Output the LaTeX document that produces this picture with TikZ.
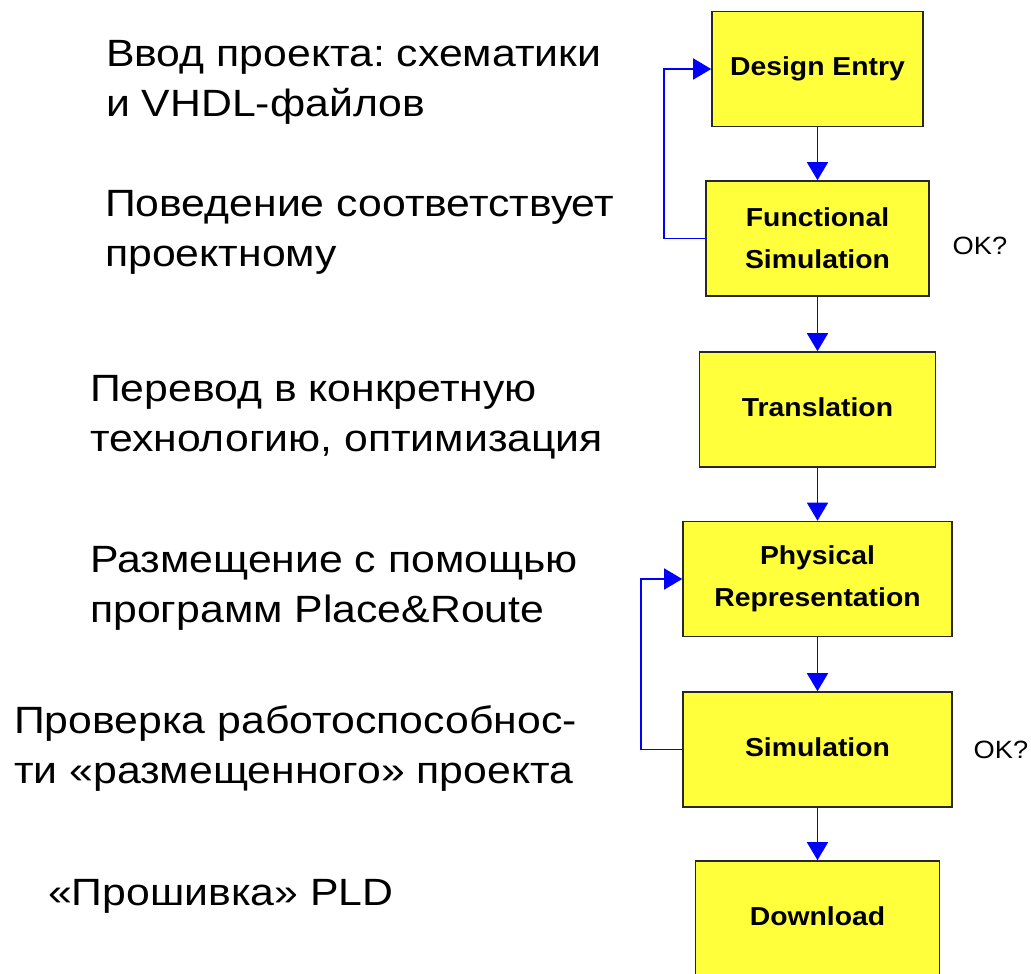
\documentclass[tikz,border=0pt]{standalone}
\usepackage{fontspec}
\setmainfont{Liberation Sans}
\newfontfamily\notefont[FakeStretch=1.125]{Liberation Sans}
\newfontfamily\stagefont[FakeStretch=1.09]{Liberation Sans}
\usetikzlibrary{arrows.meta}
\definecolor{stageyellow}{RGB}{255,255,60}
\definecolor{flowblue}{RGB}{0,0,255}
\definecolor{stageedge}{RGB}{40,40,40}
\frenchspacing
\begin{document}
\begin{tikzpicture}[x=1pt,y=-1pt,
  stage/.style={draw=stageedge, line width=1.6pt, fill=stageyellow, inner sep=0pt,
    minimum height=115pt, align=center,
    font=\stagefont\bfseries\fontsize{26}{42}\selectfont},
  flow/.style={draw=flowblue, line width=1.5pt, -{Triangle[width=21pt,length=18pt]}},
  note/.style={anchor=base west, align=left, inner sep=0pt,
    font=\notefont\fontsize{38}{50}\selectfont},
  okmark/.style={inner sep=0pt, font=\stagefont\fontsize{25}{30}\selectfont}]
\clip (0,0) rectangle (1031,974);
\fill[white] (0,0) rectangle (1031,974);

% process stages
\node[stage, minimum width=211pt] (de) at (817.5,69)
  {Design Entry};
\node[stage, minimum width=223pt] (fs) at (817.5,238.5)
  {Functional\\Simulation};
\node[stage, minimum width=236pt, text height=19pt, text depth=5pt] (tr) at (817.5,409.5)
  {Translation};
\node[stage, minimum width=269pt] (pr) at (817.5,579)
  {Physical\\Representation};
\node[stage, minimum width=269pt, text height=19pt, text depth=5pt] (sim) at (817.5,749.5)
  {Simulation};
\node[stage, minimum width=244pt, text height=19pt, text depth=5pt] (dl) at (817.5,918.5)
  {Download};

% checks
\node[okmark] (ok1) at (980,246) {OK?};
\node[okmark] (ok2) at (1001,750) {OK?};

% main flow
\draw[flow] (de) -- (fs);
\draw[flow] (fs) -- (tr);
\draw[flow] (tr) -- (pr);
\draw[flow] (pr) -- (sim);
\draw[flow] (sim) -- (dl);

% feedback loops
\coordinate (loopA) at (664,0);
\coordinate (loopB) at (641,0);
\draw[flow] (fs.west) -- (fs.west -| loopA) |- (de.west);
\draw[flow] (sim.west) -- (sim.west -| loopB) |- (pr.west);

% descriptions
\node[note] (n1) at (106,116) {Ввод проекта: схематики\\и VHDL-файлов};
\node[note] (n2) at (105,266) {Поведение соответствует\\проектному};
\node[note] (n3) at (90,451) {Перевод в конкретную\\технологию, оптимизация};
\node[note] (n4) at (90,622) {Размещение с помощью\\программ Place\&Route};
\node[note] (n5) at (14,783) {Проверка работоспособнос-\\ти «размещенного» проекта};
\node[note] (n6) at (48,905) {«Прошивка» PLD};
\end{tikzpicture}
\end{document}
